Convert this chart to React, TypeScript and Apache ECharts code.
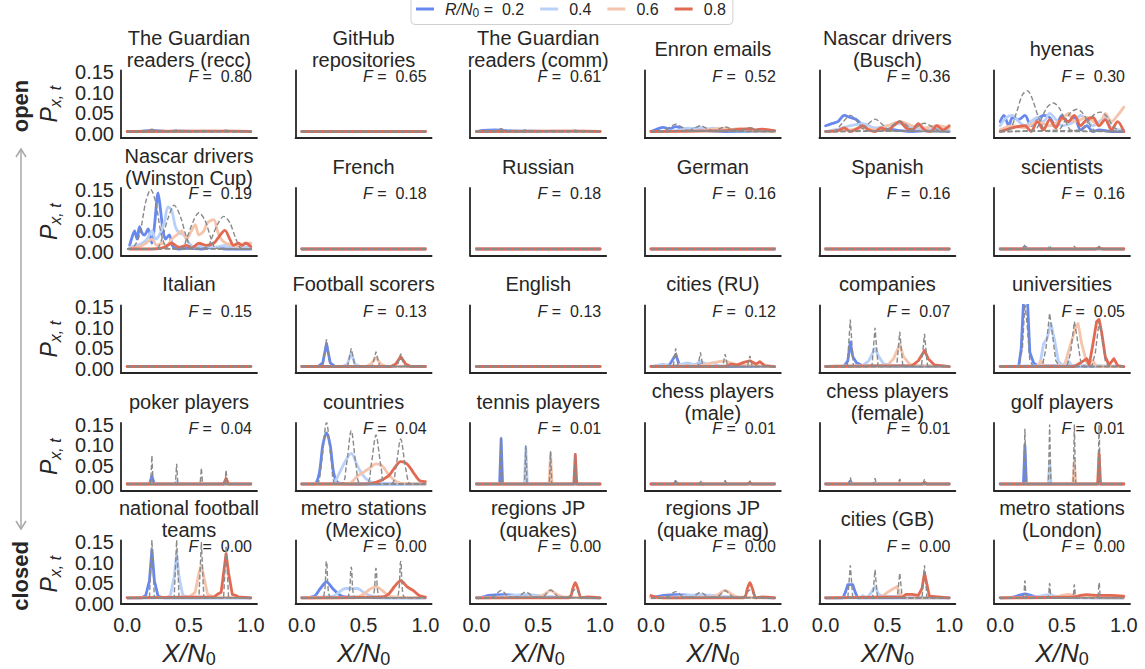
import React, { useEffect, useRef } from 'react';
import * as echarts from 'echarts';

type Pt = [number, number];
type Panel = { c: Pt[][]; g: Pt[][] };

const rValues = ['0.2', '0.4', '0.6', '0.8'];
const rColors = ['#6788ee', '#b9d0f9', '#f5c4ac', '#e26952'];
const refColor = '#8a8a8a';

const titles = [
  'The Guardian\nreaders (recc)', 'GitHub\nrepositories', 'The Guardian\nreaders (comm)', 'Enron emails', 'Nascar drivers\n(Busch)', 'hyenas',
  'Nascar drivers\n(Winston Cup)', 'French', 'Russian', 'German', 'Spanish', 'scientists',
  'Italian', 'Football scorers', 'English', 'cities (RU)', 'companies', 'universities',
  'poker players', 'countries', 'tennis players', 'chess players\n(male)', 'chess players\n(female)', 'golf players',
  'national football\nteams', 'metro stations\n(Mexico)', 'regions JP\n(quakes)', 'regions JP\n(quake mag)', 'cities (GB)', 'metro stations\n(London)',
];
const fValues = [
  '0.80', '0.65', '0.61', '0.52', '0.36', '0.30',
  '0.19', '0.18', '0.18', '0.16', '0.16', '0.16',
  '0.15', '0.13', '0.13', '0.12', '0.07', '0.05',
  '0.04', '0.04', '0.01', '0.01', '0.01', '0.01',
  '0.00', '0.00', '0.00', '0.00', '0.00', '0.00',
];
const yTicks = [0, 0.05, 0.1, 0.15];
const xTicks = [0, 0.5, 1];

const flat: Pt[] = [[0, 0.006], [1, 0.006]];

const guardianRecc: Panel = {
  c: [
    [[0, .006], [.12, .007], [.2, .009], [.3, .007], [.5, .006], [1, .006]],
    [[0, .006], [.35, .007], [.45, .008], [.55, .006], [1, .006]],
    [[0, .006], [.55, .007], [.65, .007], [1, .006]],
    [[0, .006], [.7, .007], [.85, .007], [1, .006]],
  ],
  g: [
    [[0, .006], [.14, .006], [.2, .012], [.26, .006], [1, .006]],
    [[0, .006], [.34, .006], [.4, .01], [.46, .006], [1, .006]],
    [[0, .006], [.54, .006], [.6, .009], [.66, .006], [1, .006]],
    [[0, .006], [.74, .006], [.8, .009], [.86, .006], [1, .006]],
  ],
};
const github: Panel = { c: [flat, flat, flat, flat], g: [flat, flat, flat, flat] };
const guardianComm: Panel = {
  c: [
    [[0, .006], [.05, .009], [.15, .01], [.25, .008], [.4, .006], [1, .006]],
    [[0, .006], [.3, .007], [.45, .008], [.55, .006], [1, .006]],
    [[0, .006], [.55, .007], [.65, .007], [1, .006]],
    [[0, .006], [.7, .007], [.85, .007], [1, .006]],
  ],
  g: [
    [[0, .006], [.14, .006], [.2, .013], [.26, .006], [1, .006]],
    [[0, .006], [.34, .006], [.4, .01], [.46, .006], [1, .006]],
    [[0, .006], [.54, .006], [.6, .009], [.66, .006], [1, .006]],
    [[0, .006], [.74, .006], [.8, .009], [.86, .006], [1, .006]],
  ],
};
const enron: Panel = {
  c: [
    [[0, .006], [.05, .012], [.1, .016], [.15, .012], [.2, .018], [.25, .014], [.3, .01], [.35, .013], [.45, .008], [.6, .006], [1, .006]],
    [[0, .006], [.2, .008], [.3, .014], [.35, .012], [.4, .016], [.45, .012], [.5, .014], [.6, .008], [1, .006]],
    [[0, .006], [.4, .008], [.5, .012], [.6, .014], [.65, .011], [.7, .013], [.8, .008], [1, .006]],
    [[0, .006], [.6, .008], [.7, .011], [.8, .013], [.85, .01], [.9, .012], [1, .008]],
  ],
  g: [
    [[0, .006], [.1, .008], [.15, .016], [.2, .024], [.25, .016], [.3, .008], [1, .006]],
    [[0, .006], [.3, .008], [.35, .014], [.4, .02], [.45, .014], [.5, .008], [1, .006]],
    [[0, .006], [.5, .008], [.55, .012], [.6, .017], [.65, .012], [.7, .008], [1, .006]],
    [[0, .006], [.7, .008], [.75, .011], [.8, .015], [.85, .011], [.9, .008], [1, .006]],
  ],
};
const nascarBusch: Panel = {
  c: [
    [[0, .02], [.05, .025], [.1, .03], [.15, .045], [.2, .04], [.25, .035], [.3, .02], [.35, .01], [.4, .008], [.5, .012], [.6, .008], [.7, .006], [.8, .008], [1, .006]],
    [[0, .006], [.1, .012], [.2, .02], [.3, .025], [.4, .015], [.5, .02], [.6, .025], [.7, .015], [.8, .01], [.9, .012], [1, .008]],
    [[0, .006], [.2, .01], [.3, .015], [.4, .01], [.5, .02], [.6, .03], [.7, .02], [.8, .015], [.9, .02], [1, .015]],
    [[0, .006], [.1, .008], [.15, .015], [.2, .006], [.25, .012], [.3, .02], [.35, .01], [.4, .006], [.45, .015], [.5, .008], [.55, .02], [.6, .03], [.65, .015], [.7, .01], [.75, .025], [.8, .01], [.85, .006], [.9, .02], [.95, .01], [1, .02]],
  ],
  g: [
    [[0, .006], [.08, .008], [.13, .025], [.2, .045], [.27, .025], [.32, .008], [1, .006]],
    [[0, .006], [.28, .008], [.33, .02], [.4, .036], [.47, .02], [.52, .008], [1, .006]],
    [[0, .006], [.48, .008], [.53, .018], [.6, .031], [.67, .018], [.72, .008], [1, .006]],
    [[0, .006], [.68, .008], [.73, .016], [.8, .026], [.87, .016], [.92, .008], [1, .006]],
  ],
};
const hyenas: Panel = {
  c: [
    [[0, .03], [.03, .045], [.07, .02], [.1, .04], [.15, .035], [.2, .045], [.25, .02], [.3, .035], [.35, .045], [.4, .04], [.45, .02], [.5, .045], [.55, .03], [.6, .04], [.65, .01], [.7, .02], [.75, .006], [.8, .01], [.9, .006], [1, .006]],
    [[0, .02], [.05, .04], [.1, .045], [.15, .03], [.2, .02], [.3, .04], [.35, .03], [.4, .05], [.45, .035], [.5, .02], [.6, .03], [.65, .045], [.7, .035], [.75, .02], [.8, .03], [.85, .04], [.9, .015], [1, .01]],
    [[0, .01], [.1, .02], [.2, .015], [.3, .03], [.4, .02], [.5, .035], [.55, .05], [.6, .03], [.7, .04], [.8, .02], [.85, .05], [.9, .03], [.95, .045], [1, .065]],
    [[0, .006], [.1, .015], [.2, .02], [.25, .006], [.3, .03], [.35, .01], [.4, .035], [.45, .015], [.5, .04], [.55, .03], [.6, .045], [.65, .02], [.7, .035], [.75, .04], [.8, .02], [.85, .035], [.9, .01], [.95, .03], [1, .006]],
  ],
  g: [
    [[0, .006], [.08, .012], [.13, .05], [.18, .095], [.22, .105], [.26, .085], [.31, .04], [.36, .01], [.4, .006], [1, .006]],
    [[0, .006], [.28, .01], [.33, .035], [.38, .065], [.43, .075], [.48, .062], [.53, .03], [.58, .008], [1, .006]],
    [[0, .006], [.47, .01], [.52, .03], [.57, .052], [.62, .06], [.67, .05], [.72, .025], [.77, .008], [1, .006]],
    [[0, .006], [.66, .01], [.71, .03], [.76, .047], [.81, .053], [.86, .043], [.91, .02], [.96, .008], [1, .006]],
  ],
};
const nascarWinston: Panel = {
  c: [
    [[.02, .015], [.04, .035], [.06, .05], [.08, .03], [.1, .06], [.12, .045], [.14, .04], [.17, .055], [.2, .02], [.22, .06], [.25, .142], [.27, .1], [.29, .05], [.31, .03], [.34, .04], [.37, .012], [.42, .006], [.5, .008], [.6, .006], [.7, .01], [.8, .006], [1, .006]],
    [[.02, .01], [.08, .015], [.12, .02], [.16, .03], [.2, .05], [.23, .03], [.26, .04], [.3, .07], [.33, .108], [.36, .1], [.39, .06], [.42, .045], [.46, .04], [.5, .02], [.55, .01], [.62, .015], [.7, .01], [.8, .015], [.9, .01], [1, .012]],
    [[.02, .006], [.06, .01], [.1, .012], [.15, .02], [.2, .03], [.24, .015], [.28, .02], [.32, .015], [.36, .03], [.4, .04], [.44, .05], [.48, .03], [.52, .05], [.55, .065], [.58, .04], [.62, .05], [.65, .07], [.7, .077], [.73, .05], [.76, .03], [.8, .02], [.85, .015], [.9, .012], [.95, .02], [1, .02]],
    [[.02, .006], [.2, .006], [.3, .01], [.36, .02], [.42, .01], [.48, .015], [.52, .008], [.58, .02], [.64, .015], [.7, .02], [.74, .035], [.79, .051], [.83, .03], [.86, .015], [.9, .02], [.93, .015], [.96, .02], [1, .012]],
  ],
  g: [
    [[0, .006], [.05, .01], [.1, .04], [.15, .12], [.19, .15], [.23, .12], [.27, .05], [.31, .012], [.35, .006], [1, .006]],
    [[0, .006], [.24, .008], [.28, .03], [.33, .08], [.38, .112], [.43, .085], [.48, .035], [.53, .008], [1, .006]],
    [[0, .006], [.44, .008], [.48, .03], [.53, .07], [.58, .094], [.63, .075], [.68, .03], [.72, .008], [1, .006]],
    [[0, .006], [.64, .008], [.68, .03], [.73, .065], [.78, .085], [.83, .07], [.88, .03], [.92, .008], [1, .006]],
  ],
};
const french: Panel = { c: [flat, flat, flat, flat], g: [flat, flat, flat, flat] };
const russian: Panel = { c: [flat, flat, flat, flat], g: [flat, flat, flat, flat] };
const german: Panel = { c: [flat, flat, flat, flat], g: [flat, flat, flat, flat] };
const spanish: Panel = { c: [flat, flat, flat, flat], g: [flat, flat, flat, flat] };
const scientists: Panel = {
  c: [
    [[0, .006], [.17, .006], [.2, .011], [.23, .006], [1, .006]],
    [[0, .006], [.37, .006], [.4, .009], [.43, .006], [1, .006]],
    [[0, .006], [.57, .006], [.6, .008], [.63, .006], [1, .006]],
    [[0, .006], [.77, .006], [.8, .009], [.83, .006], [1, .006]],
  ],
  g: [
    [[0, .006], [.185, .006], [.2, .017], [.215, .006], [1, .006]],
    [[0, .006], [.385, .006], [.4, .014], [.415, .006], [1, .006]],
    [[0, .006], [.585, .006], [.6, .013], [.615, .006], [1, .006]],
    [[0, .006], [.785, .006], [.8, .013], [.815, .006], [1, .006]],
  ],
};
const italian: Panel = { c: [flat, flat, flat, flat], g: [flat, flat, flat, flat] };
const footballScorers: Panel = {
  c: [
    [[0, .006], [.13, .006], [.17, .015], [.2, .062], [.23, .015], [.27, .006], [1, .006]],
    [[0, .006], [.33, .006], [.37, .012], [.4, .04], [.43, .012], [.47, .006], [1, .006]],
    [[0, .006], [.52, .006], [.56, .012], [.6, .028], [.64, .012], [.68, .006], [1, .006]],
    [[0, .006], [.72, .006], [.76, .012], [.8, .03], [.84, .012], [.88, .006], [1, .006]],
  ],
  g: [
    [[0, .006], [.17, .006], [.2, .072], [.23, .006], [1, .006]],
    [[0, .006], [.37, .006], [.4, .05], [.43, .006], [1, .006]],
    [[0, .006], [.57, .006], [.6, .042], [.63, .006], [1, .006]],
    [[0, .006], [.77, .006], [.8, .037], [.83, .006], [1, .006]],
  ],
};
const english: Panel = { c: [flat, flat, flat, flat], g: [flat, flat, flat, flat] };
const citiesRU: Panel = {
  c: [
    [[0, .006], [.1, .008], [.15, .01], [.2, .035], [.23, .01], [.28, .012], [.32, .008], [.4, .012], [.45, .006], [1, .006]],
    [[0, .006], [.1, .012], [.15, .006], [.25, .012], [.3, .015], [.35, .01], [.4, .018], [.45, .012], [.5, .015], [.55, .008], [1, .006]],
    [[0, .006], [.4, .008], [.5, .015], [.55, .018], [.6, .02], [.65, .014], [.7, .01], [1, .006]],
    [[0, .006], [.6, .006], [.65, .012], [.7, .01], [.75, .016], [.8, .02], [.85, .012], [.88, .018], [.92, .008], [1, .006]],
  ],
  g: [
    [[0, .006], [.18, .006], [.2, .05], [.22, .006], [1, .006]],
    [[0, .006], [.38, .006], [.4, .04], [.42, .006], [1, .006]],
    [[0, .006], [.58, .006], [.6, .036], [.62, .006], [1, .006]],
    [[0, .006], [.78, .006], [.8, .032], [.82, .006], [1, .006]],
  ],
};
const companies: Panel = {
  c: [
    [[0, .006], [.15, .007], [.18, .02], [.2, .065], [.22, .03], [.25, .015], [.3, .008], [1, .006]],
    [[0, .006], [.3, .008], [.35, .02], [.4, .05], [.43, .03], [.47, .012], [.55, .008], [1, .006]],
    [[0, .006], [.5, .008], [.55, .025], [.6, .06], [.63, .03], [.68, .012], [.75, .008], [1, .006]],
    [[0, .006], [.7, .008], [.75, .02], [.8, .045], [.83, .025], [.88, .01], [1, .006]],
  ],
  g: [
    [[0, .006], [.175, .006], [.2, .12], [.225, .006], [1, .006]],
    [[0, .006], [.375, .006], [.4, .1], [.425, .006], [1, .006]],
    [[0, .006], [.575, .006], [.6, .09], [.625, .006], [1, .006]],
    [[0, .006], [.775, .006], [.8, .085], [.825, .006], [1, .006]],
  ],
};
const universities: Panel = {
  c: [
    [[0, .006], [.15, .006], [.17, .05], [.19, .17], [.22, .17], [.24, .04], [.27, .015], [.3, .008], [1, .006]],
    [[0, .006], [.32, .008], [.35, .06], [.38, .075], [.41, .11], [.44, .07], [.47, .02], [.5, .008], [.55, .02], [.58, .008], [1, .006]],
    [[0, .006], [.3, .006], [.33, .02], [.36, .006], [.52, .008], [.55, .04], [.58, .07], [.61, .1], [.63, .11], [.66, .06], [.7, .015], [.75, .02], [.78, .006], [1, .006]],
    [[0, .006], [.6, .006], [.65, .015], [.7, .025], [.72, .01], [.75, .06], [.78, .115], [.8, .12], [.82, .09], [.85, .03], [.88, .01], [.92, .025], [.95, .008], [1, .006]],
  ],
  g: [
    [[0, .006], [.15, .006], [.18, .05], [.2, .16], [.22, .1], [.24, .02], [.27, .006], [1, .006]],
    [[0, .006], [.34, .006], [.37, .05], [.4, .135], [.42, .09], [.45, .02], [.48, .006], [1, .006]],
    [[0, .006], [.54, .006], [.57, .04], [.6, .115], [.62, .08], [.65, .02], [.68, .006], [1, .006]],
    [[0, .006], [.74, .006], [.77, .04], [.8, .115], [.82, .08], [.85, .02], [.88, .006], [1, .006]],
  ],
};
const poker: Panel = {
  c: [
    [[0, .006], [.18, .006], [.2, .025], [.22, .006], [1, .006]],
    [[0, .006], [.38, .006], [.4, .012], [.42, .006], [1, .006]],
    [[0, .006], [.58, .006], [.6, .012], [.62, .006], [1, .006]],
    [[0, .006], [.78, .006], [.8, .02], [.82, .006], [1, .006]],
  ],
  g: [
    [[0, .006], [.19, .006], [.2, .075], [.21, .006], [1, .006]],
    [[0, .006], [.39, .006], [.4, .055], [.41, .006], [1, .006]],
    [[0, .006], [.59, .006], [.6, .045], [.61, .006], [1, .006]],
    [[0, .006], [.79, .006], [.8, .04], [.81, .006], [1, .006]],
  ],
};
const countries: Panel = {
  c: [
    [[0, .006], [.1, .006], [.14, .03], [.17, .1], [.2, .13], [.23, .1], [.26, .03], [.3, .008], [.4, .006], [1, .006]],
    [[0, .006], [.25, .008], [.3, .03], [.35, .06], [.4, .08], [.45, .05], [.5, .025], [.55, .012], [.6, .008], [.7, .006], [1, .006]],
    [[0, .006], [.35, .006], [.4, .01], [.45, .025], [.5, .035], [.55, .045], [.6, .055], [.65, .05], [.7, .03], [.75, .015], [.8, .008], [1, .006]],
    [[0, .006], [.5, .006], [.6, .01], [.7, .025], [.75, .045], [.8, .06], [.85, .055], [.9, .035], [.95, .015], [1, .012]],
  ],
  g: [
    [[0, .006], [.12, .006], [.16, .06], [.2, .155], [.24, .06], [.28, .006], [1, .006]],
    [[0, .006], [.32, .006], [.36, .05], [.4, .135], [.44, .05], [.48, .006], [1, .006]],
    [[0, .006], [.52, .006], [.56, .05], [.6, .125], [.64, .05], [.68, .006], [1, .006]],
    [[0, .006], [.72, .006], [.76, .045], [.8, .115], [.84, .045], [.88, .006], [1, .006]],
  ],
};
const tennis: Panel = {
  c: [
    [[0, .006], [.188, .006], [.2, .115], [.212, .006], [1, .006]],
    [[0, .006], [.388, .006], [.4, .095], [.412, .006], [1, .006]],
    [[0, .006], [.588, .006], [.6, .08], [.612, .006], [1, .006]],
    [[0, .006], [.788, .006], [.8, .078], [.812, .006], [1, .006]],
  ],
  g: [
    [[0, .006], [.19, .006], [.2, .12], [.21, .006], [1, .006]],
    [[0, .006], [.39, .006], [.4, .1], [.41, .006], [1, .006]],
    [[0, .006], [.59, .006], [.6, .085], [.61, .006], [1, .006]],
    [[0, .006], [.79, .006], [.8, .08], [.81, .006], [1, .006]],
  ],
};
const chessMale: Panel = {
  c: [
    [[0, .006], [.18, .006], [.2, .011], [.22, .006], [1, .006]],
    [[0, .006], [.38, .006], [.4, .009], [.42, .006], [1, .006]],
    [[0, .006], [.58, .006], [.6, .009], [.62, .006], [1, .006]],
    [[0, .006], [.78, .006], [.8, .009], [.82, .006], [1, .006]],
  ],
  g: [
    [[0, .006], [.188, .006], [.2, .018], [.212, .006], [1, .006]],
    [[0, .006], [.388, .006], [.4, .015], [.412, .006], [1, .006]],
    [[0, .006], [.588, .006], [.6, .015], [.612, .006], [1, .006]],
    [[0, .006], [.788, .006], [.8, .014], [.812, .006], [1, .006]],
  ],
};
const chessFemale: Panel = {
  c: [
    [[0, .006], [.18, .006], [.2, .012], [.22, .006], [1, .006]],
    [[0, .006], [.38, .006], [.4, .01], [.42, .006], [1, .006]],
    [[0, .006], [.58, .006], [.6, .01], [.62, .006], [1, .006]],
    [[0, .006], [.78, .006], [.8, .01], [.82, .006], [1, .006]],
  ],
  g: [
    [[0, .006], [.188, .006], [.2, .022], [.212, .006], [1, .006]],
    [[0, .006], [.388, .006], [.4, .02], [.412, .006], [1, .006]],
    [[0, .006], [.588, .006], [.6, .018], [.612, .006], [1, .006]],
    [[0, .006], [.788, .006], [.8, .018], [.812, .006], [1, .006]],
  ],
};
const golf: Panel = {
  c: [
    [[0, .006], [.188, .006], [.2, .1], [.212, .006], [1, .006]],
    [[0, .006], [.388, .006], [.4, .06], [.412, .006], [1, .006]],
    [[0, .006], [.588, .006], [.6, .06], [.612, .006], [1, .006]],
    [[0, .006], [.788, .006], [.8, .08], [.812, .006], [1, .006]],
  ],
  g: [
    [[0, .006], [.19, .006], [.2, .14], [.21, .006], [1, .006]],
    [[0, .006], [.39, .006], [.4, .15], [.41, .006], [1, .006]],
    [[0, .006], [.59, .006], [.6, .15], [.61, .006], [1, .006]],
    [[0, .006], [.79, .006], [.8, .15], [.81, .006], [1, .006]],
  ],
};
const nationalTeams: Panel = {
  c: [
    [[0, .006], [.12, .006], [.15, .012], [.18, .05], [.2, .13], [.22, .05], [.25, .01], [.3, .006], [1, .006]],
    [[0, .006], [.32, .006], [.35, .012], [.38, .06], [.4, .12], [.42, .06], [.45, .012], [.5, .008], [1, .006]],
    [[0, .006], [.5, .008], [.55, .02], [.58, .07], [.6, .09], [.62, .06], [.65, .015], [.7, .008], [1, .006]],
    [[0, .006], [.7, .008], [.73, .015], [.76, .02], [.78, .07], [.8, .12], [.82, .07], [.85, .015], [.88, .012], [.9, .008], [1, .006]],
  ],
  g: [
    [[0, .006], [.18, .006], [.2, .155], [.22, .006], [1, .006]],
    [[0, .006], [.38, .006], [.4, .155], [.42, .006], [1, .006]],
    [[0, .006], [.58, .006], [.6, .15], [.62, .006], [1, .006]],
    [[0, .006], [.78, .006], [.8, .14], [.82, .006], [1, .006]],
  ],
};
const metroMexico: Panel = {
  c: [
    [[0, .006], [.1, .01], [.15, .03], [.2, .047], [.25, .03], [.3, .015], [.35, .008], [1, .006]],
    [[0, .006], [.25, .01], [.3, .02], [.35, .03], [.45, .03], [.5, .02], [.55, .012], [.6, .008], [1, .006]],
    [[0, .006], [.45, .008], [.5, .015], [.55, .028], [.6, .035], [.65, .025], [.7, .012], [.75, .008], [1, .006]],
    [[0, .006], [.65, .008], [.7, .015], [.75, .035], [.8, .05], [.85, .035], [.9, .025], [.95, .012], [1, .008]],
  ],
  g: [
    [[0, .006], [.165, .006], [.2, .1], [.235, .006], [1, .006]],
    [[0, .006], [.365, .006], [.4, .085], [.435, .006], [1, .006]],
    [[0, .006], [.565, .006], [.6, .082], [.635, .006], [1, .006]],
    [[0, .006], [.765, .006], [.8, .1], [.835, .006], [1, .006]],
  ],
};
const regionsQuakes: Panel = {
  c: [
    [[0, .006], [.05, .008], [.1, .012], [.2, .014], [.3, .013], [.4, .01], [.5, .008], [1, .006]],
    [[0, .006], [.2, .008], [.3, .012], [.4, .015], [.5, .012], [.6, .008], [1, .006]],
    [[0, .006], [.5, .008], [.55, .015], [.6, .025], [.65, .015], [.7, .008], [1, .006]],
    [[0, .006], [.75, .006], [.78, .03], [.8, .045], [.82, .03], [.85, .006], [.9, .008], [1, .006]],
  ],
  g: [
    [[0, .006], [.13, .008], [.2, .025], [.27, .008], [1, .006]],
    [[0, .006], [.33, .008], [.4, .021], [.47, .008], [1, .006]],
    [[0, .006], [.53, .008], [.6, .026], [.67, .008], [1, .006]],
    [[0, .006], [.74, .008], [.8, .028], [.86, .008], [1, .006]],
  ],
};
const regionsQuakeMag: Panel = {
  c: [
    [[0, .008], [.05, .009], [.1, .012], [.2, .014], [.3, .013], [.4, .01], [.5, .008], [1, .006]],
    [[0, .006], [.2, .008], [.3, .012], [.4, .014], [.5, .012], [.6, .008], [1, .006]],
    [[0, .006], [.5, .008], [.55, .016], [.6, .026], [.65, .016], [.7, .008], [1, .006]],
    [[0, .012], [.04, .008], [.1, .006], [.75, .006], [.78, .03], [.8, .045], [.82, .03], [.85, .006], [.9, .008], [1, .006]],
  ],
  g: [
    [[0, .006], [.13, .008], [.2, .022], [.27, .008], [1, .006]],
    [[0, .006], [.33, .008], [.4, .02], [.47, .008], [1, .006]],
    [[0, .006], [.53, .008], [.6, .024], [.67, .008], [1, .006]],
    [[0, .006], [.74, .008], [.8, .026], [.86, .008], [1, .006]],
  ],
};
const citiesGB: Panel = {
  c: [
    [[0, .006], [.14, .006], [.16, .02], [.18, .04], [.22, .04], [.24, .02], [.26, .006], [1, .006]],
    [[0, .006], [.28, .006], [.3, .012], [.33, .006], [.36, .015], [.4, .035], [.43, .015], [.46, .01], [1, .006]],
    [[0, .006], [.45, .008], [.5, .02], [.55, .03], [.58, .035], [.6, .015], [.63, .006], [1, .006]],
    [[0, .006], [.62, .008], [.65, .015], [.7, .015], [.75, .012], [.78, .03], [.8, .07], [.82, .04], [.84, .01], [1, .006]],
  ],
  g: [
    [[0, .006], [.18, .006], [.2, .09], [.22, .006], [1, .006]],
    [[0, .006], [.38, .006], [.4, .078], [.42, .006], [1, .006]],
    [[0, .006], [.58, .006], [.6, .07], [.62, .006], [1, .006]],
    [[0, .006], [.78, .006], [.8, .09], [.82, .006], [1, .006]],
  ],
};
const metroLondon: Panel = {
  c: [
    [[0, .006], [.1, .008], [.15, .012], [.2, .016], [.25, .012], [.3, .008], [1, .006]],
    [[0, .006], [.3, .008], [.35, .012], [.4, .014], [.45, .01], [.5, .008], [1, .006]],
    [[0, .006], [.45, .008], [.5, .012], [.55, .015], [.6, .012], [.65, .008], [1, .006]],
    [[0, .006], [.6, .008], [.65, .012], [.7, .014], [.8, .012], [.9, .012], [1, .01]],
  ],
  g: [
    [[0, .006], [.18, .006], [.2, .05], [.22, .006], [1, .006]],
    [[0, .006], [.38, .006], [.4, .043], [.42, .006], [1, .006]],
    [[0, .006], [.58, .006], [.6, .04], [.62, .006], [1, .006]],
    [[0, .006], [.78, .006], [.8, .045], [.82, .006], [1, .006]],
  ],
};

const panels: Panel[] = [
  guardianRecc, github, guardianComm, enron, nascarBusch, hyenas,
  nascarWinston, french, russian, german, spanish, scientists,
  italian, footballScorers, english, citiesRU, companies, universities,
  poker, countries, tennis, chessMale, chessFemale, golf,
  nationalTeams, metroMexico, regionsQuakes, regionsQuakeMag, citiesGB, metroLondon,
];

// panels whose curves are drawn as smooth curves (style only)
const smoothPanels = [3, 4, 5, 6, 19, 25, 26, 27, 29];

const FONT = '"Liberation Sans", Arial, sans-serif';
const TXT = '#262626';
const NCOL = 6;
const NROW = 5;
const GRID_W = 136;
const Y_MIN = -0.01;
const Y_MAX = 0.154;
const PX_PER_UNIT = 413;
const GRID_H = (Y_MAX - Y_MIN) * PX_PER_UNIT;

const colLeft = (c: number) => 121 + 174.6 * c;
const rowZero = (r: number) => 134 + 117.5 * r;

const yLabelStyle = {
  customValues: yTicks, formatter: (v: number) => v.toFixed(2),
  showMinLabel: true, showMaxLabel: true, hideOverlap: false,
  fontSize: 20, color: TXT, fontFamily: FONT, margin: 7,
};
const yNameProps = {
  name: '{i|P}{s|x, t}',
  nameLocation: 'middle', nameGap: 58, nameRotate: 90,
  nameTextStyle: {
    color: TXT, fontFamily: FONT,
    rich: {
      i: { fontSize: 23, fontStyle: 'italic', color: TXT, fontFamily: FONT, lineHeight: 28 },
      s: { fontSize: 16, fontStyle: 'italic', color: TXT, fontFamily: FONT, lineHeight: 14, verticalAlign: 'bottom' },
    },
  },
};

export default function App() {
  const ref = useRef<HTMLDivElement>(null);
  useEffect(() => {
    if (!ref.current) return;
    const chart = echarts.init(ref.current, undefined, { renderer: 'svg' });
    const grids: any[] = [];
    const xAxes: any[] = [];
    const yAxes: any[] = [];
    const series: any[] = [];
    const graphics: any[] = [];
    panels.forEach((p, i) => {
      const r = Math.floor(i / NCOL);
      const c = i % NCOL;
      const left = colLeft(c);
      const y0 = rowZero(r);
      const sm = smoothPanels.indexOf(i) >= 0 ? 0.3 : false;
      const bottomRow = r === NROW - 1;
      // the corner panel gets its y labels from a separate overlay axis
      const yLabelsHere = c === 0 && !bottomRow;
      grids.push({ left, top: y0 - Y_MAX * PX_PER_UNIT, width: GRID_W, height: GRID_H });
      xAxes.push({
        gridIndex: i, type: 'value', min: -0.05, max: 1.05,
        axisLine: { show: true, onZero: false, lineStyle: { color: TXT, width: 1.8 } },
        axisTick: { show: false }, splitLine: { show: false },
        axisLabel: {
          show: bottomRow, customValues: xTicks, formatter: (v: number) => v.toFixed(1),
          showMinLabel: true, showMaxLabel: true, hideOverlap: false,
          fontSize: 20, color: TXT, fontFamily: FONT, margin: 11,
        },
        name: bottomRow ? '{i|X/N}{s|0}' : '',
        nameLocation: 'middle', nameGap: 34,
        nameTextStyle: {
          color: TXT, fontFamily: FONT,
          rich: {
            i: { fontSize: 26, fontStyle: 'italic', color: TXT, fontFamily: FONT, lineHeight: 30 },
            s: { fontSize: 18, color: TXT, fontFamily: FONT, lineHeight: 16, verticalAlign: 'bottom' },
          },
        },
      });
      yAxes.push({
        gridIndex: i, type: 'value', min: Y_MIN, max: Y_MAX,
        axisLine: { show: true, onZero: false, lineStyle: { color: TXT, width: 1.8 } },
        axisTick: { show: false }, splitLine: { show: false },
        axisLabel: { ...yLabelStyle, show: yLabelsHere },
        ...(yLabelsHere ? yNameProps : { name: '' }),
      });
      p.c.forEach((d, k) => {
        series.push({
          type: 'line', name: rValues[k], xAxisIndex: i, yAxisIndex: i, data: d, smooth: sm,
          symbol: 'none', showSymbol: false, color: rColors[k], silent: true, z: 2,
          lineStyle: { color: rColors[k], width: 2.8, cap: 'round', join: 'round' },
        });
      });
      p.g.forEach((d) => {
        series.push({
          type: 'line', name: 'ref', xAxisIndex: i, yAxisIndex: i, data: d, smooth: sm,
          symbol: 'none', showSymbol: false, color: refColor, silent: true, z: 3,
          lineStyle: { color: refColor, width: 1.4, type: [5, 2.5] },
        });
      });
      graphics.push({
        type: 'text', x: left + GRID_W / 2, y: y0 - 85,
        style: {
          text: titles[i], fill: TXT, fontSize: 20, fontFamily: FONT, lineHeight: 22,
          align: 'center', verticalAlign: 'middle',
        },
      });
      graphics.push({
        type: 'text', x: left + 131, y: y0 - 58,
        style: {
          text: '{i|F} =  ' + fValues[i], fill: TXT, fontSize: 16, fontFamily: FONT,
          align: 'right', verticalAlign: 'middle',
          rich: { i: { fontStyle: 'italic', fontSize: 16, fontFamily: FONT, fill: TXT } },
        },
      });
    });

    // overlay grid on the bottom-left panel carrying its y tick labels and name
    const cornerY0 = rowZero(NROW - 1);
    const overlayIndex = panels.length;
    grids.push({ left: colLeft(0), top: cornerY0 - Y_MAX * PX_PER_UNIT, width: GRID_W, height: GRID_H });
    xAxes.push({ gridIndex: overlayIndex, type: 'value', min: -0.05, max: 1.05, show: false });
    yAxes.push({
      gridIndex: overlayIndex, type: 'value', min: Y_MIN, max: Y_MAX,
      axisLine: { show: false, onZero: false }, axisTick: { show: false }, splitLine: { show: false },
      axisLabel: { ...yLabelStyle, show: true },
      ...yNameProps,
    });

    graphics.push({
      type: 'text', x: 20, y: 106, rotation: Math.PI / 2,
      style: { text: 'open', fill: TXT, fontSize: 22, fontWeight: 'bold', fontFamily: FONT, align: 'center', verticalAlign: 'middle' },
    });
    graphics.push({
      type: 'text', x: 20, y: 576, rotation: Math.PI / 2,
      style: { text: 'closed', fill: TXT, fontSize: 22, fontWeight: 'bold', fontFamily: FONT, align: 'center', verticalAlign: 'middle' },
    });
    graphics.push({ type: 'line', shape: { x1: 21, y1: 149, x2: 21, y2: 529 }, style: { stroke: '#a8a8a8', lineWidth: 1.5 } });
    graphics.push({ type: 'polyline', shape: { points: [[16, 157], [21, 149], [26, 157]] }, style: { stroke: '#a8a8a8', lineWidth: 1.5, fill: 'none' } });
    graphics.push({ type: 'polyline', shape: { points: [[16, 521], [21, 529], [26, 521]] }, style: { stroke: '#a8a8a8', lineWidth: 1.5, fill: 'none' } });

    chart.setOption({
      animation: false,
      backgroundColor: '#ffffff',
      textStyle: { fontFamily: FONT },
      legend: {
        data: rValues,
        left: 411, top: -7,
        icon: 'rect', itemWidth: 18, itemHeight: 3, itemGap: 16,
        padding: [8, 7, 6, 5],
        borderColor: '#d0d0d0', borderWidth: 1, borderRadius: 4,
        backgroundColor: '#ffffff',
        selectedMode: false,
        formatter: (name: string) => (name === '0.2' ? '{i|R/N}{s|0}{t| =  0.2}' : '{t|' + name + '}'),
        textStyle: {
          color: TXT, fontFamily: FONT, fontSize: 16, padding: [0, 0, 0, 6],
          rich: {
            i: { fontStyle: 'italic', fontSize: 16, color: TXT, fontFamily: FONT, lineHeight: 19 },
            s: { fontSize: 12, color: TXT, fontFamily: FONT, lineHeight: 10, verticalAlign: 'bottom' },
            t: { fontSize: 16, color: TXT, fontFamily: FONT, lineHeight: 19 },
          },
        },
      },
      grid: grids,
      xAxis: xAxes,
      yAxis: yAxes,
      series,
      graphic: graphics,
    });
    return () => chart.dispose();
  }, []);
  return <div ref={ref} style={{ position: 'absolute', left: 0, top: 0, width: 1145, height: 669 }} />;
}
